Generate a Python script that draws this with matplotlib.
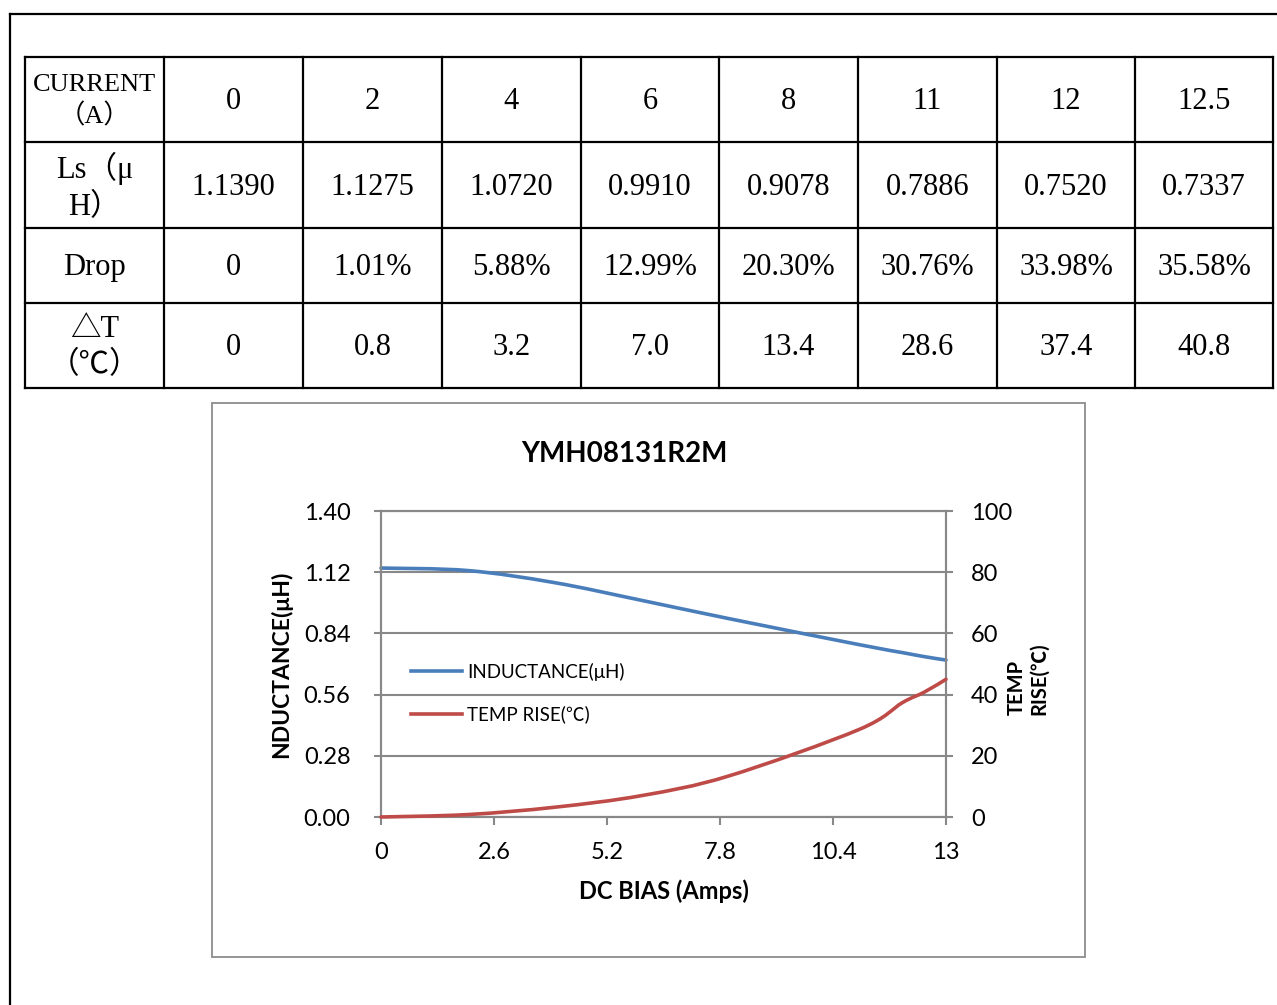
import numpy as np
import matplotlib
matplotlib.use('Agg')
import matplotlib.pyplot as plt
from matplotlib.path import Path
from matplotlib.patches import PathPatch, Rectangle
from matplotlib.lines import Line2D

plt.rcParams['font.family'] = ['Lato', 'Noto Sans CJK SC', 'DejaVu Sans']

# table values
row_heads = ['CURRENT\n（A）', 'Ls（μ\nH）', 'Drop', '△T\n（℃）']
currents = ['0', '2', '4', '6', '8', '11', '12', '12.5']
ls_uh = ['1.1390', '1.1275', '1.0720', '0.9910', '0.9078', '0.7886', '0.7520', '0.7337']
drop = ['0', '1.01%', '5.88%', '12.99%', '20.30%', '30.76%', '33.98%', '35.58%']
delta_t = ['0', '0.8', '3.2', '7.0', '13.4', '28.6', '37.4', '40.8']

# curves (goes on to 13 A)
bias = [0, 2, 4, 6, 8, 11, 12, 12.5, 13]
inductance = [1.139, 1.1275, 1.072, 0.991, 0.9078, 0.7886, 0.752, 0.7337, 0.718]
temp_rise = [0, 0.8, 3.2, 7.0, 13.4, 28.6, 37.4, 40.8, 45.0]

blue = '#4a7ebb'
red = '#be4b48'
grey = '#888888'


def smooth_path(x, y):
    # excel style smoothed line -> cubic bezier through the points
    p = np.column_stack([x, y]).astype(float)
    n = len(p)
    verts = [p[0]]
    codes = [Path.MOVETO]
    for i in range(n - 1):
        p0 = p[i - 1] if i > 0 else p[i]
        p3 = p[i + 2] if i + 2 < n else p[i + 1]
        verts += [p[i] + (p[i + 1] - p0) / 6, p[i + 1] - (p3 - p[i]) / 6, p[i + 1]]
        codes += [Path.CURVE4] * 3
    return Path(verts, codes)


W, H = 1277, 1005
fig = plt.figure(figsize=(W / 100, H / 100), dpi=100)

# page layer in pixel coords
bg = fig.add_axes([0, 0, 1, 1])
bg.set_xlim(0, W)
bg.set_ylim(H, 0)
bg.axis('off')
bg.plot([10, W], [14, 14], color='black', lw=1.6)
bg.plot([10, 10], [14, H], color='black', lw=1.6)

col_edges = [25, 164, 303, 442, 581, 719, 858, 997, 1135, 1273]
row_edges = [57, 142, 228, 303, 388]
for xe in col_edges:
    bg.plot([xe, xe], [row_edges[0], row_edges[-1]], color='black', lw=1.6)
for ye in row_edges:
    bg.plot([col_edges[0], col_edges[-1]], [ye, ye], color='black', lw=1.6)

serif = ['Liberation Serif', 'Noto Sans CJK SC', 'DejaVu Sans']
head_sizes = [19, 22, 22, 22]
rows = [currents, ls_uh, drop, delta_t]
for r, vals in enumerate(rows):
    yc = (row_edges[r] + row_edges[r + 1]) / 2 + 2
    bg.text((col_edges[0] + col_edges[1]) / 2, yc, row_heads[r], family=serif,
            fontsize=head_sizes[r], ha='center', va='center', linespacing=1.35)
    for c, v in enumerate(vals):
        xc = (col_edges[c + 1] + col_edges[c + 2]) / 2
        bg.text(xc, yc, v, family=serif, fontsize=22, ha='center', va='center')

bg.add_patch(Rectangle((212, 403), 873, 554, fill=False, edgecolor='#8c8c8c', lw=1.3))

# chart
ax = fig.add_axes([381 / W, 1 - 817 / H, 565 / W, 306 / H])
ax2 = ax.twinx()

ax.set_xlim(0, 13)
ax.set_ylim(0, 1.40)
ax2.set_ylim(0, 100)
ax.set_xticks(np.arange(0, 13.01, 2.6))
ax.set_xticklabels(['0', '2.6', '5.2', '7.8', '10.4', '13'])
ax.set_yticks(np.arange(0, 1.401, 0.28))
ax.set_yticklabels(['%.2f' % v for v in np.arange(0, 1.401, 0.28)])
ax2.set_yticks(np.arange(0, 101, 20))

ax.grid(axis='y', color=grey, lw=1.5)
ax.set_axisbelow(True)
for a in (ax, ax2):
    for s in a.spines.values():
        s.set_color(grey)
        s.set_linewidth(1.5)
ax.tick_params(axis='y', direction='out', length=5, width=1.5, color=grey, labelsize=17, pad=17)
ax.tick_params(axis='x', direction='out', length=6, width=1.5, color=grey, labelsize=17, pad=12)
ax2.tick_params(axis='y', direction='out', length=5, width=1.5, color=grey, labelsize=17, pad=13)

ax.add_patch(PathPatch(smooth_path(bias, inductance), fill=False, edgecolor=blue,
                       lw=2.6, capstyle='round', clip_on=False, zorder=3))
ax2.add_patch(PathPatch(smooth_path(bias, temp_rise), fill=False, edgecolor=red,
                        lw=2.6, capstyle='round', clip_on=False, zorder=3))

ax.set_title('YMH08131R2M', fontsize=20, fontweight='bold', x=0.43, pad=35)
ax.set_xlabel('DC BIAS (Amps)', fontsize=17, fontweight='bold', labelpad=12)
ax.set_ylabel('NDUCTANCE(μH)', fontsize=16.5, fontweight='bold', va='center')
ax.yaxis.set_label_coords(-0.177, 0.5)
ax2.set_ylabel('TEMP\nRISE(℃)', fontsize=14.5, fontweight='bold', va='center',
               rotation=90, multialignment='left')
ax2.yaxis.set_label_coords(1.145, 0.451)

handles = [Line2D([], [], color=blue, lw=2.6), Line2D([], [], color=red, lw=2.6)]
ax2.legend(handles, ['INDUCTANCE(μH)', 'TEMP RISE(℃)'], loc='center left',
           bbox_to_anchor=(0.053, 0.405), frameon=False, fontsize=13.5,
           handlelength=2.7, handletextpad=0.3, labelspacing=1.3,
           borderpad=0, borderaxespad=0)

fig.savefig('out.png', dpi=100)
